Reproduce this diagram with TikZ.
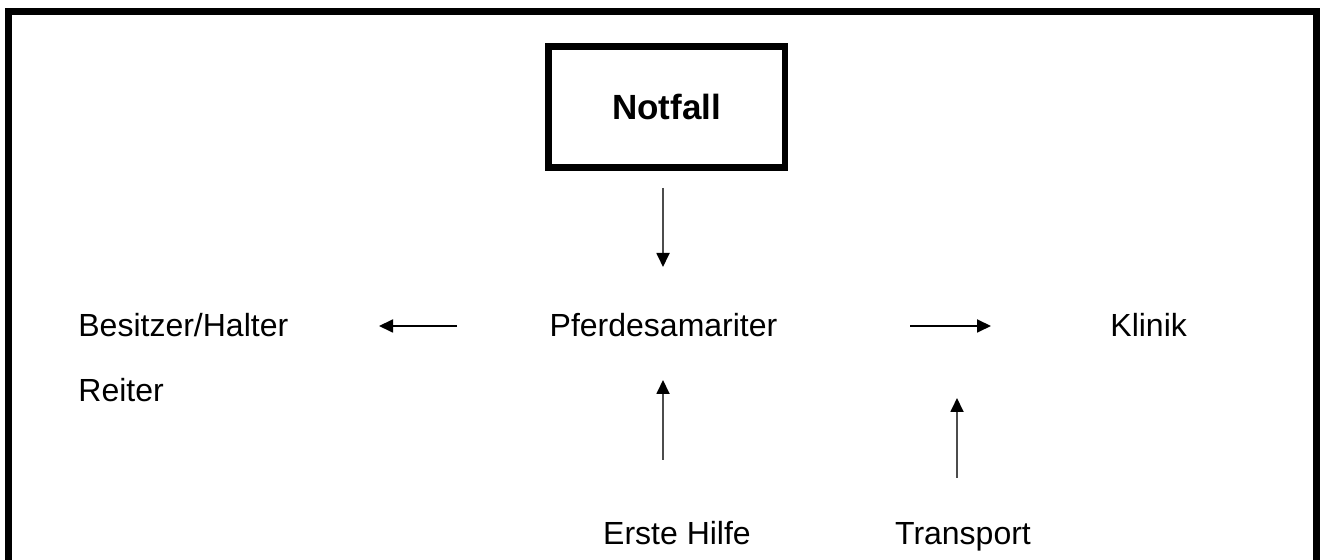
\documentclass[tikz,border=0pt]{standalone}
\usepackage{fontspec}
\setmainfont{Liberation Sans}
\usetikzlibrary{arrows.meta}
\begin{document}
\begin{tikzpicture}[x=0.5pt,y=-0.5pt,
  lbl/.style={inner sep=0pt, font=\fontsize{16}{19}\selectfont},
  boxnode/.style={draw, line width=3.4pt, inner sep=0pt,
    minimum width=118.25pt, minimum height=60.5pt,
    font=\fontsize{17.5}{21}\selectfont\bfseries},
  varr/.style={draw=black!70, line width=0.9pt, -{Triangle[length=7pt,width=6.5pt,color=black]}},
  harr/.style={draw=black, line width=0.9pt, -{Triangle[length=7pt,width=6.5pt,color=black]}}]
\useasboundingbox (0,0) rectangle (1323,560);
\clip (0,0) rectangle (1323,560);
\fill[white] (0,0) rectangle (1323,560);
% outer frame (bottom edge lies outside the picture)
\draw[line width=3.5pt] (8.5,620) -- (8.5,11.5) -- (1316.5,11.5) -- (1316.5,620);

\node[boxnode] (notfall) at (666.75,107) {Notfall};

\node[lbl, anchor=base] (pferd) at (663.5,337) {Pferdesamariter};
\node[lbl, anchor=base west] (besitzer) at (78,337) {Besitzer/Halter};
\node[lbl, anchor=base west] (reiter) at (78,402) {Reiter};
\node[lbl, anchor=base west] (klinik) at (1110,337) {Klinik};
\node[lbl, anchor=base] (erste) at (677,545) {Erste Hilfe};
\node[lbl, anchor=base] (transport) at (963,545) {Transport};

\coordinate (d1) at (663,188);
\coordinate (d2) at (663,267);
\coordinate (l1) at (457,326);
\coordinate (l2) at (379,326);
\coordinate (r1) at (910,326);
\coordinate (r2) at (991,326);
\coordinate (u1) at (663,460);
\coordinate (u2) at (663,380);
\coordinate (t1) at (957,478);
\coordinate (t2) at (957,398);

\draw[varr] (d1) -- (d2);
\draw[harr] (l1) -- (l2);
\draw[harr] (r1) -- (r2);
\draw[varr] (u1) -- (u2);
\draw[varr] (t1) -- (t2);
\end{tikzpicture}
\end{document}
